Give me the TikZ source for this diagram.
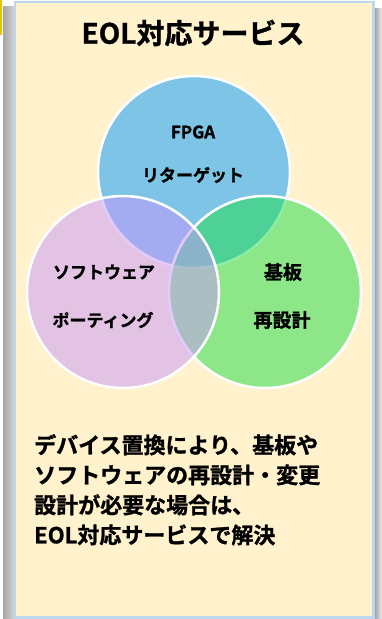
\documentclass[tikz,border=0pt]{standalone}
\usepackage{fontspec}
\setmainfont{Noto Sans CJK JP}[BoldFont={Noto Sans CJK JP Bold}, BoldFeatures={FakeBold=1.2}]
\usetikzlibrary{shapes.geometric}
\definecolor{panelfill}{RGB}{255,242,204}
\definecolor{panelborder}{RGB}{189,215,238}
\definecolor{cblue}{RGB}{126,196,230}
\definecolor{cgreen}{RGB}{29,222,72}
\definecolor{cpink}{RGB}{201,150,252}
\definecolor{gold}{RGB}{240,192,0}
\tikzset{
  venn/.style={circle, minimum size=192pt, inner sep=0pt, draw=white, line width=2.5pt},
  lbl/.style={font=\fontsize{17}{20}\selectfont\bfseries, inner sep=0pt, text=black},
}
\begin{document}
\begin{tikzpicture}[x=1pt,y=-1pt]
\useasboundingbox (0,0) rectangle (382,619);
% shadows
\shade[left color=gray!70, right color=gray!35] (3,6) rectangle (14,619);
\shade[left color=gray!70, right color=gray!15] (375,8) rectangle (382,619);
\fill[gold] (0,0) rectangle (1.5,35);
% panel
\draw[fill=panelfill, draw=panelborder, line width=2.2pt] (15.2,2.1) rectangle (373.4,617.5);
% title
\node[font=\fontsize{28}{32}\selectfont\bfseries, inner sep=0pt] (title) at (193,33) {EOL対応サービス};
% circles
\node[venn, fill=cblue] (cfpga) at (194,172) {};
\node[venn, fill=cgreen, fill opacity=0.5] (cboard) at (265,292) {};
\node[venn, fill=cpink, fill opacity=0.5] (csoft) at (123,292) {};
% labels
\node[lbl] (l1) at (193,132) {FPGA};
\node[lbl] (l2) at (193,175) {リターゲット};
\node[lbl] (l3) at (104,272) {ソフトウェア};
\node[lbl] (l4) at (103,320) {ポーティング};
\node[lbl, font=\fontsize{19}{22}\selectfont\bfseries] (l5) at (283,272) {基板};
\node[lbl, font=\fontsize{19}{22}\selectfont\bfseries] (l6) at (282,320) {再設計};
% bottom text
\node[anchor=north west, inner sep=0pt, align=left,
      font=\fontsize{22}{30}\selectfont\bfseries] (desc) at (34,434)
  {デバイス置換により、基板や\\ソフトウェアの再設計・変更\\設計が必要な場合は、\\EOL対応サービスで解決};
\end{tikzpicture}
\end{document}
